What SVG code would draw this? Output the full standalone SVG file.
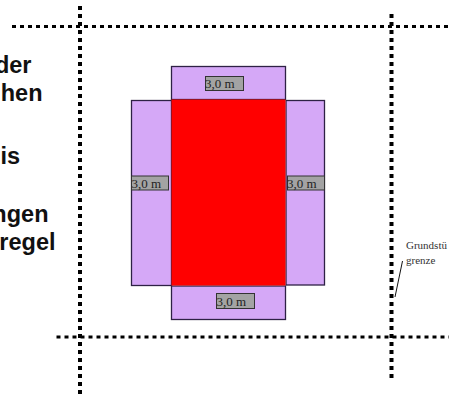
<svg xmlns="http://www.w3.org/2000/svg" width="449" height="394" viewBox="0 0 449 394">
<style>
.b{fill:#d5a8f7;stroke:#2e2145;stroke-width:1.3}
.l{fill:#a3a3a3;stroke:#333;stroke-width:1}
.t{font-family:"Liberation Serif",serif;font-size:13px;fill:#222}
.h{font-family:"Liberation Sans",Arial,sans-serif;font-size:23.500px;font-weight:bold;fill:#111;text-anchor:end}
.g{font-family:"Liberation Serif",serif;font-size:11px;fill:#333}
.v{fill:none;stroke:#000;stroke-width:4;stroke-dasharray:4 4}
.w{fill:none;stroke:#000;stroke-width:3;stroke-dasharray:4 4}
</style>
<rect width="449" height="394" fill="#fff"/>
<g id="connectors">
<path class="v" d="M80 6V394"/>
<path class="w" d="M12 26.500H449"/>
<path class="v" d="M391.500 14V378"/>
<path class="w" d="M56.500 337H449"/>
<path d="M402.500 261L395 297" fill="none" stroke="#111" stroke-width="1"/>
</g>
<g id="text">
<text class="h" x="31.500" y="72.500">der</text>
<text class="h" x="42.500" y="101">hen</text>
<text class="h" x="20" y="163.500">is</text>
<text class="h" x="48.500" y="222">ngen</text>
<text class="h" x="55.500" y="250">regel</text>
</g>
<g id="top"><rect class="b" x="171.500" y="66.500" width="114" height="33"/><rect class="l" x="205.500" y="76.500" width="38" height="14"/><text class="t" x="205" y="88">3,0 m</text></g>
<g id="left"><rect class="b" x="131.500" y="100.500" width="40" height="185"/><rect class="l" x="131.500" y="176" width="37" height="14"/><text class="t" x="131.500" y="188">3,0 m</text></g>
<g id="right"><rect class="b" x="286" y="100.500" width="38.500" height="184.500"/><rect class="l" x="287.500" y="176" width="37" height="14"/><text class="t" x="287" y="188">3,0 m</text></g>
<g id="bottom"><rect class="b" x="171.500" y="286" width="114" height="33.500"/><rect class="l" x="216.500" y="293.500" width="38" height="15"/><text class="t" x="216.500" y="306">3,0 m</text></g>
<g id="house"><rect x="171.500" y="99.500" width="114" height="186" fill="#f00"/></g>
<g id="grenze"><text class="g" x="406" y="249">Grundstü</text><text class="g" x="406" y="263.500">grenze</text></g>
</svg>
